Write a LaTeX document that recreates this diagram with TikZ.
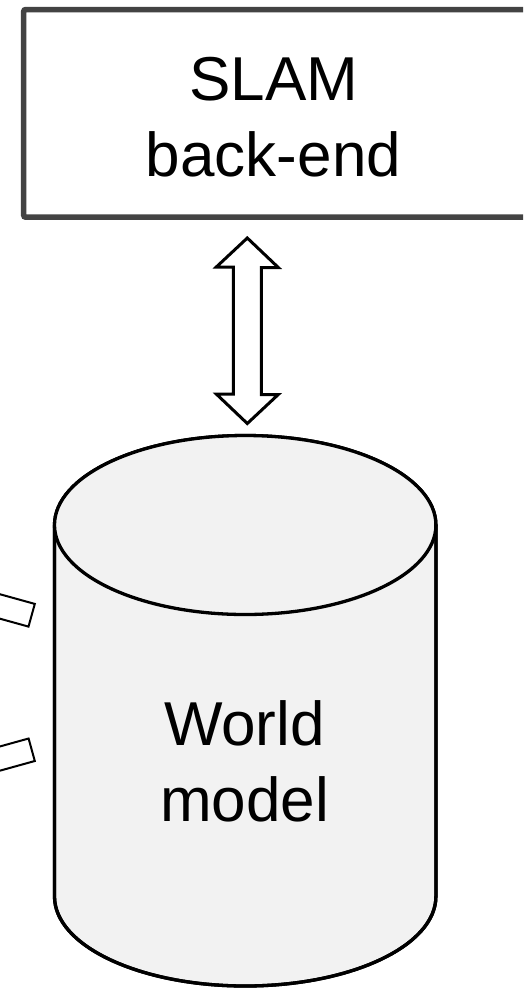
\documentclass[tikz,border=0pt]{standalone}
\usepackage{fontspec}
\setmainfont{Liberation Sans}
\definecolor{boxline}{HTML}{434343}
\definecolor{cylfill}{HTML}{F2F2F2}
\tikzset{
  boxstyle/.style={draw=boxline, line width=5.5pt, fill=white, rounded corners=2pt},
  cylstyle/.style={draw=black, line width=3.3pt, fill=cylfill},
  bigarrow/.style={draw=black, line width=3pt, fill=white, line join=miter},
  sidearrow/.style={draw=black, line width=2pt, fill=white, line join=miter},
  label/.style={font=\fontsize{62pt}{76.7pt}\selectfont, inner sep=0pt, anchor=base}
}
\begin{document}
\begin{tikzpicture}[x=1pt,y=-1pt]
\useasboundingbox (0,0) rectangle (523,989);
\clip (0,0) rectangle (523,989);

% SLAM back-end box
\draw[boxstyle] (23.7,9.5) rectangle (527,217.2);
\coordinate (slam) at (275,113.3);
\node[label] (slamA) at (274,100) {SLAM};
\node[label] (slamB) at (273.5,176.7) {back-end};

% World model cylinder
\coordinate (cyl) at (245.2,525);
\path[cylstyle] (54.5,525) -- (54.5,896.5)
  arc[start angle=180, end angle=360, x radius=190.7, y radius=-89.5]
  -- (435.9,525)
  arc[start angle=0, end angle=180, x radius=190.7, y radius=-89.5] -- cycle;
\draw[cylstyle, fill=none] (54.5,525) -- (54.5,896.5)
  arc[start angle=180, end angle=360, x radius=190.7, y radius=-89.5]
  -- (435.9,525);
\draw[cylstyle] (cyl) ellipse[x radius=190.7, y radius=89.5];
\node[label] (wm1) at (244.5,745) {World};
\node[label] (wm2) at (244.5,821.7) {model};

% double block arrow between back-end and world model
\coordinate (at) at (247.3,238);
\coordinate (ab) at (247.3,423.5);
\draw[bigarrow] (at) -- ++(31,29.5) -- ++(-17,0) -- ++(0,127) -- ++(17,0)
  -- (ab) -- ++(-31,-29.5) -- ++(17,0) -- ++(0,-127) -- ++(-17,0) -- cycle;

% side arrows entering the world model (tails cut by the frame)
\coordinate (s1a) at (34.8,603.9);
\coordinate (s1b) at (28.5,626.6);
\draw[sidearrow] (s1a) -- (s1b) -- ++(-134.9,-37.4) -- ++(6.3,-22.7) -- cycle;
\coordinate (s2a) at (28.6,738.5);
\coordinate (s2b) at (34.8,761.0);
\draw[sidearrow] (s2a) -- (s2b) -- ++(-134.9,37.4) -- ++(-6.2,-22.5) -- cycle;
\end{tikzpicture}
\end{document}
